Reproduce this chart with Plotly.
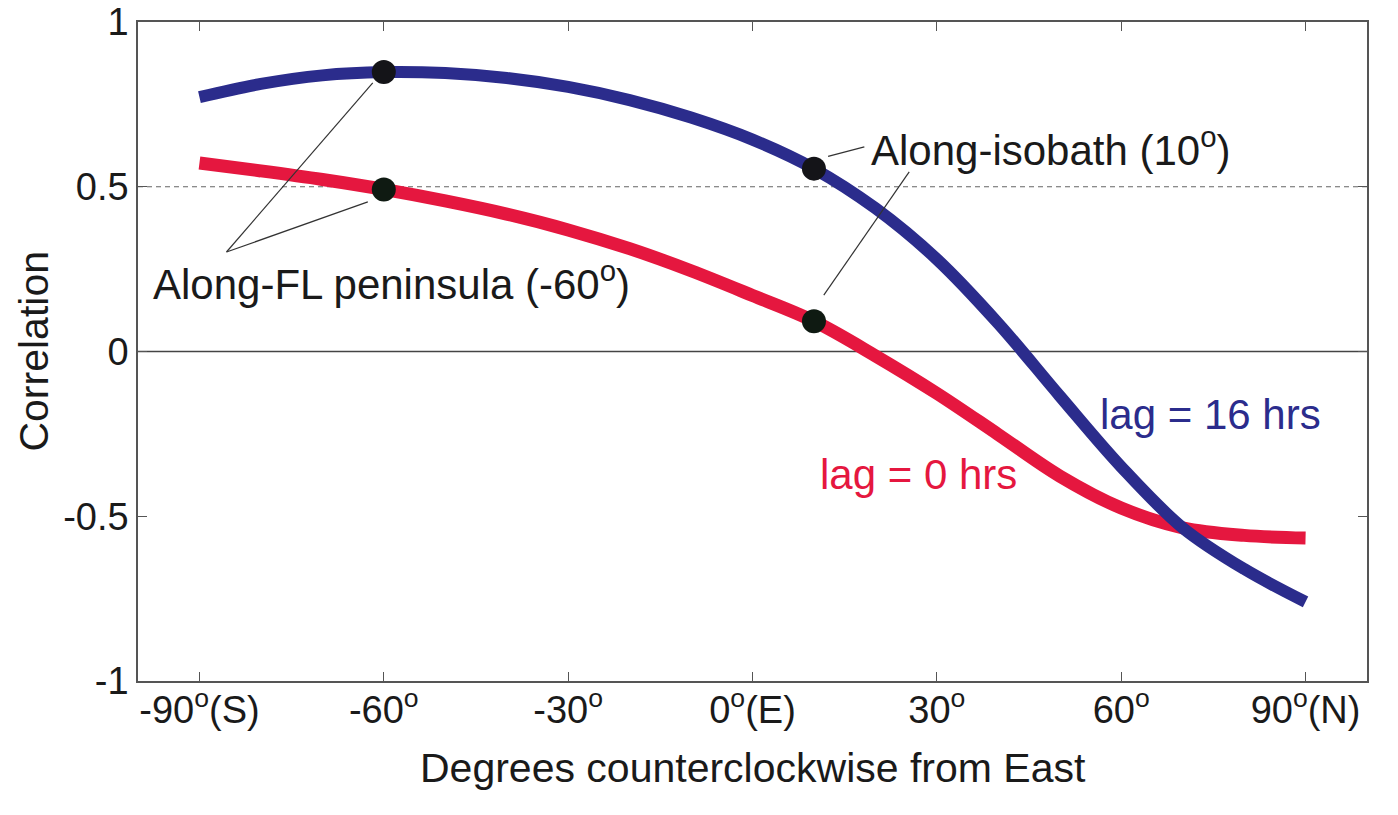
import plotly.graph_objects as go

# ---- data ----
angles = [-90, -80, -70, -60, -50, -40, -30, -20, -10, 0, 10, 20, 30, 40, 50, 60, 70, 80, 90]
corr_lag16 = [0.772, 0.812, 0.838, 0.848, 0.845, 0.83, 0.803, 0.763, 0.71, 0.643, 0.555, 0.435,
              0.28, 0.085, -0.135, -0.35, -0.535, -0.66, -0.76]
corr_lag0 = [0.572, 0.548, 0.522, 0.492, 0.457, 0.417, 0.369, 0.312, 0.245, 0.17, 0.092, -0.013,
             -0.127, -0.252, -0.378, -0.475, -0.535, -0.558, -0.566]
marker_angles = [-60, 10]
marker_lag16 = [0.848, 0.555]
marker_lag0 = [0.492, 0.092]
xtick_vals = [-90, -60, -30, 0, 30, 60, 90]
xtick_text = ["-90<sup>o</sup>(S)", "-60<sup>o</sup>", "-30<sup>o</sup>", "0<sup>o</sup>(E)",
              "30<sup>o</sup>", "60<sup>o</sup>", "90<sup>o</sup>(N)"]
ytick_vals = [-1, -0.5, 0, 0.5, 1]
ytick_text = ["-1", "-0.5", "0", "0.5", "1"]

BLUE = "#2b2c8c"
RED = "#e5173f"
FONT = "Liberation Sans, Arial, sans-serif"

fig = go.Figure()

# reference lines
fig.add_shape(type="line", xref="paper", x0=0, x1=1, yref="y", y0=0.5, y1=0.5,
              line=dict(color="#666666", width=1.1, dash="5px,4px"), layer="below")
fig.add_shape(type="line", xref="paper", x0=0, x1=1, yref="y", y0=0, y1=0,
              line=dict(color="#444444", width=1.5), layer="below")

fig.add_trace(go.Scatter(x=angles, y=corr_lag0, mode="lines", line=dict(color=RED, width=13, shape="spline"),
                         showlegend=False))
fig.add_trace(go.Scatter(x=angles, y=corr_lag16, mode="lines", line=dict(color=BLUE, width=12, shape="spline"),
                         showlegend=False))
fig.add_trace(go.Scatter(x=marker_angles, y=marker_lag16, mode="markers",
                         marker=dict(color="#141418", size=24), showlegend=False))
fig.add_trace(go.Scatter(x=marker_angles, y=marker_lag0, mode="markers",
                         marker=dict(color="#0f1a12", size=24), showlegend=False))

# leader lines
leaders = [
    (-85.6, 0.302, -61.8, 0.815),
    (-85.6, 0.302, -62.6, 0.454),
    (12.3, 0.592, 18.2, 0.621),
    (25.5, 0.545, 11.6, 0.171),
]
for x0, y0, x1, y1 in leaders:
    fig.add_shape(type="line", xref="x", yref="y", x0=x0, y0=y0, x1=x1, y1=y1,
                  line=dict(color="#333333", width=1.2))

ann_font = dict(family=FONT, size=42, color="#1a1a1a")
fig.add_annotation(x=19.0, y=0.62, text="Along-isobath (10<sup>o</sup>)", showarrow=False,
                   xanchor="left", yanchor="middle", font=ann_font)
fig.add_annotation(x=-97.9, y=0.214, text="Along-FL peninsula (-60<sup>o</sup>)", showarrow=False,
                   xanchor="left", yanchor="middle", font=ann_font)
fig.add_annotation(x=56.3, y=-0.19, text="lag = 16 hrs", showarrow=False,
                   xanchor="left", yanchor="middle", font=dict(family=FONT, size=42, color=BLUE))
fig.add_annotation(x=10.7, y=-0.372, text="lag = 0 hrs", showarrow=False,
                   xanchor="left", yanchor="middle", font=dict(family=FONT, size=42, color=RED))

# axis titles
fig.add_annotation(xref="paper", yref="paper", x=0.5, y=-0.132, text="Degrees counterclockwise from East",
                   showarrow=False, xanchor="center", yanchor="middle",
                   font=dict(family=FONT, size=41, color="#1a1a1a"))
fig.add_annotation(xref="paper", yref="paper", x=-0.0854, y=0.5, text="Correlation", textangle=-90,
                   showarrow=False, xanchor="center", yanchor="middle",
                   font=dict(family=FONT, size=41, color="#1a1a1a"))

axis_common = dict(showgrid=False, zeroline=False, showline=True, linecolor="#555555", linewidth=1.5,
                   mirror="ticks", ticks="inside", ticklen=9, tickwidth=1.2, tickcolor="#555555",
                   automargin=False, ticklabeloverflow="allow",
                   tickfont=dict(family=FONT, size=38, color="#1a1a1a"))

fig.update_xaxes(range=[-100, 100], tickvals=xtick_vals, ticktext=xtick_text, ticklabelstandoff=-5,
                 **axis_common)
fig.update_yaxes(range=[-1, 1], tickvals=ytick_vals, ticktext=ytick_text, **axis_common)

fig.update_layout(width=1398, height=815, margin=dict(l=138, r=31, t=22, b=134, autoexpand=False),
                  paper_bgcolor="white", plot_bgcolor="white", font=dict(family=FONT))

# remove the default page body margin so the figure fills the window exactly
fig.write_html("out.html", config={"displayModeBar": False},
               post_script="document.body.style.margin='0';")
